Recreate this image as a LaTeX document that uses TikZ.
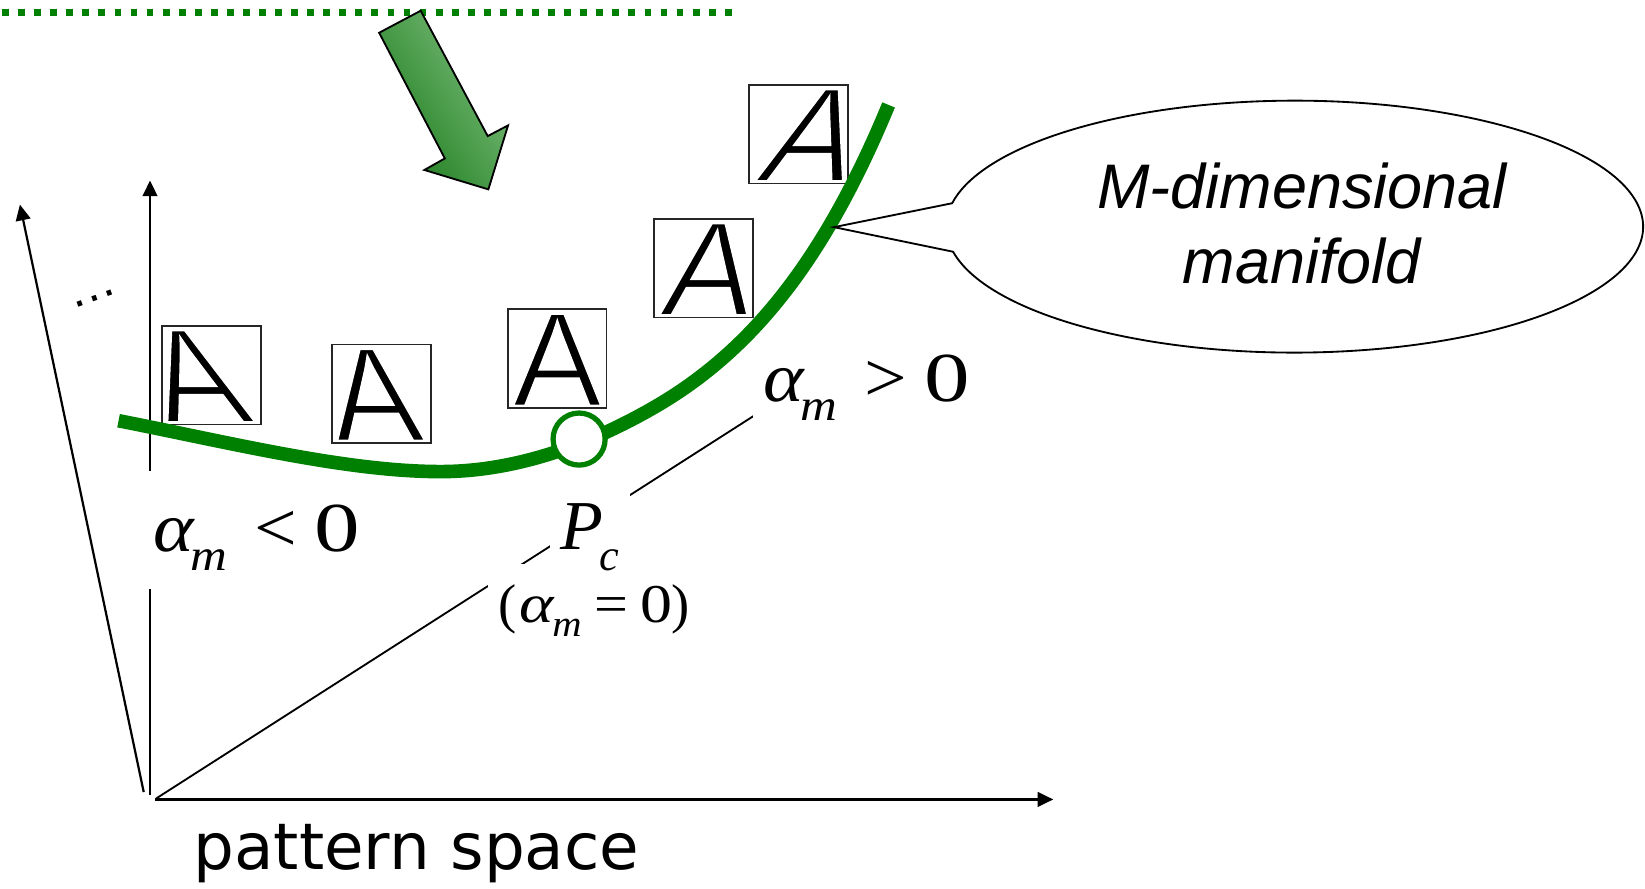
\documentclass[tikz,border=0pt]{standalone}
\usepackage{fontspec}
\usepackage{graphicx}
\usetikzlibrary{arrows.meta,calc}
\newfontfamily\tnr{Liberation Serif}
\newfontfamily\ars{Liberation Sans}
\newfontfamily\dvs{DejaVu Sans}
\definecolor{pgreen}{RGB}{0,128,0}
\definecolor{arrdark}{RGB}{30,125,30}
\definecolor{arrlight}{RGB}{125,190,125}
\newcommand{\sx}[2]{\scalebox{#1}[1]{#2}}
\newcommand{\alab}[1]{\tnr\fontsize{19}{20}\selectfont\makebox[0.35cm][l]{\sx{1.1}{\itshape α}}\makebox[0.61cm][l]{\raisebox{-0.18cm}{\fontsize{12}{12}\selectfont\sx{1.15}{\itshape m}}}\makebox[0.57cm][l]{\sx{1.08}{#1}}\sx{1.3}{0}}
\newcommand{\thinA}{\special{pdf:literal direct 2 Tr 1 G 0.85 w}A\special{pdf:literal direct 0 Tr}}
\tikzset{
  axis/.style={line width=0.6pt, -{Triangle[length=0.15cm,width=0.14cm]}},
  thin line/.style={line width=0.5pt},
  lab/.style={fill=white, inner xsep=0.1cm, inner ysep=0.1cm, anchor=base west},
  curve/.style={pgreen, line width=0.13cm},
  abox/.style={draw=black!85, line width=0.5pt, minimum size=0.94cm, inner sep=0},
  aglyph/.style={font=\ars\fontsize{36.56}{40}\selectfont, inner sep=0, anchor=south, transform shape},
  mtext/.style={font=\ars\itshape\fontsize{17.07}{20}\selectfont, inner sep=0, anchor=base},
  callout/.style={draw, fill=white, line width=0.5pt},
  blockarrow/.style={draw=black, line width=0.5pt, top color=arrlight, bottom color=arrdark, shading angle=-57},
  dotline/.style={pgreen, line width=0.07cm, dash pattern=on 0.065cm off 0.088cm}
}
\begin{document}
\begin{tikzpicture}[x=0.01cm, y=-0.01cm]
\useasboundingbox (0,0) rectangle (1568,847);
% dotted line
\coordinate (d1) at (2,12);
\coordinate (d2) at (705,12);
\draw[dotline] (d1) -- (d2);
% axes
\coordinate (oh) at (148,762);
\coordinate (hx) at (1004,762);
\coordinate (ov) at (143,758);
\coordinate (vy) at (143,172);
\coordinate (ol) at (137,755);
\coordinate (ly) at (19,195);
\coordinate (od) at (149,761);
\coordinate (de) at (780,357);
\draw[axis] (oh) -- (hx);
\draw[axis] (ov) -- (vy);
\draw[axis] (ol) -- (ly);
\draw[thin line] (od) -- (de);
% labels with white background
\node[lab, text height=0.456cm, text depth=0.2cm] (azero) at (464.7,593.6) {\tnr\fontsize{14.8}{16}\selectfont\makebox[0.202cm][l]{(}\makebox[0.309cm][l]{\sx{1.2}{\itshape α}}\makebox[0.402cm][l]{\raisebox{-0.134cm}{\fontsize{10}{10}\selectfont\sx{1.1}{\itshape m}}}\makebox[0.437cm][l]{\sx{1.1}{=}}\makebox[0.292cm][l]{\sx{1.17}{0}})};
\node[lab, text height=0.44cm, text depth=0.22cm] (pclab) at (524,523.7) {\tnr\fontsize{19}{20}\selectfont\makebox[0.366cm][l]{\itshape P}\raisebox{-0.197cm}{\fontsize{12}{12}\selectfont\itshape c}};
\node[lab, text height=0.67cm, text depth=0.25cm] (aneg) at (136,526) {\alab{<}};
\node[lab, text height=0.5cm, text depth=0.25cm] (apos) at (717,383) {\alab{>}};
% A glyphs (slanted letters)
\coordinate (gb1) at (201.75,403.5);
\coordinate (gb2) at (363.45,421.3);
\coordinate (gb3) at (531.1,387.8);
\coordinate (gb4) at (670.35,301.5);
\coordinate (gb5) at (761.35,173.8);
\begin{scope}[shift={(gb1)}, xslant=-0.366]
  \node[aglyph] (g1) at (0,0) {\thinA};
\end{scope}
\begin{scope}[shift={(gb2)}, xslant=-0.163]
  \node[aglyph] (g2) at (0,0) {\thinA};
\end{scope}
\begin{scope}[shift={(gb3)}]
  \node[aglyph] (g3) at (0,0) {\thinA};
\end{scope}
\begin{scope}[shift={(gb4)}, xslant=0.163]
  \node[aglyph] (g4) at (0,0) {\thinA};
\end{scope}
\begin{scope}[shift={(gb5)}, xslant=0.355]
  \node[aglyph] (g5) at (0,0) {\thinA};
\end{scope}
% A boxes
\node[abox] (a1) at (201.75,357.65) {};
\node[abox] (a2) at (363.45,375.4) {};
\node[abox] (a3) at (531.1,341.9) {};
\node[abox] (a4) at (670.35,255.65) {};
\node[abox] (a5) at (761.35,127.9) {};
% manifold curve
\draw[curve] (113,401) .. controls (220,422) and (330,449.5) .. (420,449.5)
  .. controls (490,449.5) and (560,425) .. (624,388)
  .. controls (715,335.4) and (785,250) .. (847,100);
\node[circle, draw=pgreen, fill=white, line width=0.05cm, minimum size=0.496cm, inner sep=0] (pc) at (552,418.5) {};
% dots
\node[font=\ars\fontsize{13.4}{14}\selectfont, rotate=20, inner sep=0] (dots) at (90,284.5) {…};
% callout
\coordinate (ec) at (1234,216);
\coordinate (tip) at (795,216.5);
\draw[callout] (tip) -- ($(ec)+(191.5:3.32cm and 1.2cm)$) arc[start angle=191.5, end angle=529.3, x radius=3.32cm, y radius=1.2cm] -- cycle;
\node[mtext] (m1) at (1241,198.6) {M-dimensional};
\node[mtext] (m2) at (1241,270) {manifold};
% block arrow
\draw[blockarrow] (401,10.2) -- (361.4,31.2) -- (424,151) -- (404.5,162) -- (465.5,180.5) -- (484.3,119.5) -- (464.9,129.7) -- cycle;
% pattern space
\node[font=\dvs\fontsize{17.45}{20}\selectfont, inner sep=0, anchor=base] (ps) at (397,829) {pattern space};
\end{tikzpicture}
\end{document}
